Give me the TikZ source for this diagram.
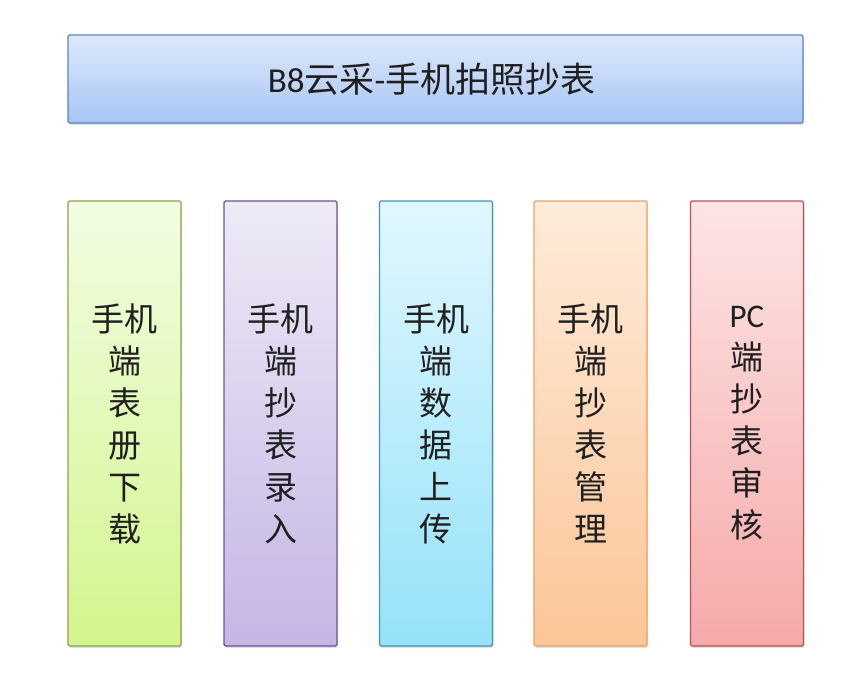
\documentclass[tikz,border=0pt]{standalone}
\usepackage{fontspec}
\setmainfont{Carlito}
\newfontfamily\cjk{Noto Sans CJK SC}
\usepackage{tikz}
\usepackage{xcolor}
\usetikzlibrary{shadows}

\definecolor{titletop}{HTML}{DDE9FC}
\definecolor{titlebot}{HTML}{A8C5F4}
\definecolor{titleline}{HTML}{5B83C4}
\definecolor{greentop}{HTML}{F2FDE3}
\definecolor{greenbot}{HTML}{D3F58D}
\definecolor{greenline}{HTML}{8FA24E}
\definecolor{purptop}{HTML}{EEEAF6}
\definecolor{purpbot}{HTML}{C5B5E5}
\definecolor{purpline}{HTML}{6E5298}
\definecolor{bluetop}{HTML}{E1F7FE}
\definecolor{bluebot}{HTML}{95E2F9}
\definecolor{blueline}{HTML}{4490B9}
\definecolor{orantop}{HTML}{FEEBDA}
\definecolor{oranbot}{HTML}{FBC698}
\definecolor{oranline}{HTML}{EDA35C}
\definecolor{redtop}{HTML}{FDE5E5}
\definecolor{redbot}{HTML}{F6A9A9}
\definecolor{redline}{HTML}{B5515A}

\begin{document}
\begin{tikzpicture}[x=1pt,y=-1pt,line width=1.1pt,
    box/.style={draw,rectangle,rounded corners=1.5pt,align=center,
      text=black!88,drop shadow={shadow xshift=1pt,shadow yshift=-2pt,opacity=0.25}},
    column/.style={box,minimum width=113pt,minimum height=445pt,
      font=\fontsize{33}{42}\selectfont}]
      \useasboundingbox (0,0) rectangle (862,698);

      \node [box,minimum width=735pt,minimum height=88pt,draw=titleline,
        top color=titletop,bottom color=titlebot,
        font=\fontsize{35}{40}\selectfont] (title) at (435.5,79) {%
        B8{\cjk 云采}-{\cjk 手机拍照抄表}
      };

      \node [column,draw=greenline,top color=greentop,bottom color=greenbot] (c1) at (124.5,423.5) {%
        \cjk 手机\\ \cjk 端\\ \cjk 表\\ \cjk 册\\ \cjk 下\\ \cjk 载
      };
      \node [column,draw=purpline,top color=purptop,bottom color=purpbot] (c2) at (280.5,423.5) {%
        \cjk 手机\\ \cjk 端\\ \cjk 抄\\ \cjk 表\\ \cjk 录\\ \cjk 入
      };
      \node [column,draw=blueline,top color=bluetop,bottom color=bluebot] (c3) at (436,423.5) {%
        \cjk 手机\\ \cjk 端\\ \cjk 数\\ \cjk 据\\ \cjk 上\\ \cjk 传
      };
      \node [column,draw=oranline,top color=orantop,bottom color=oranbot] (c4) at (590.5,423.5) {%
        \cjk 手机\\ \cjk 端\\ \cjk 抄\\ \cjk 表\\ \cjk 管\\ \cjk 理
      };
      \node [column,draw=redline,top color=redtop,bottom color=redbot] (c5) at (747,423.5) {%
        PC\\ \cjk 端\\ \cjk 抄\\ \cjk 表\\ \cjk 审\\ \cjk 核
      };
    \end{tikzpicture}
\end{document}
